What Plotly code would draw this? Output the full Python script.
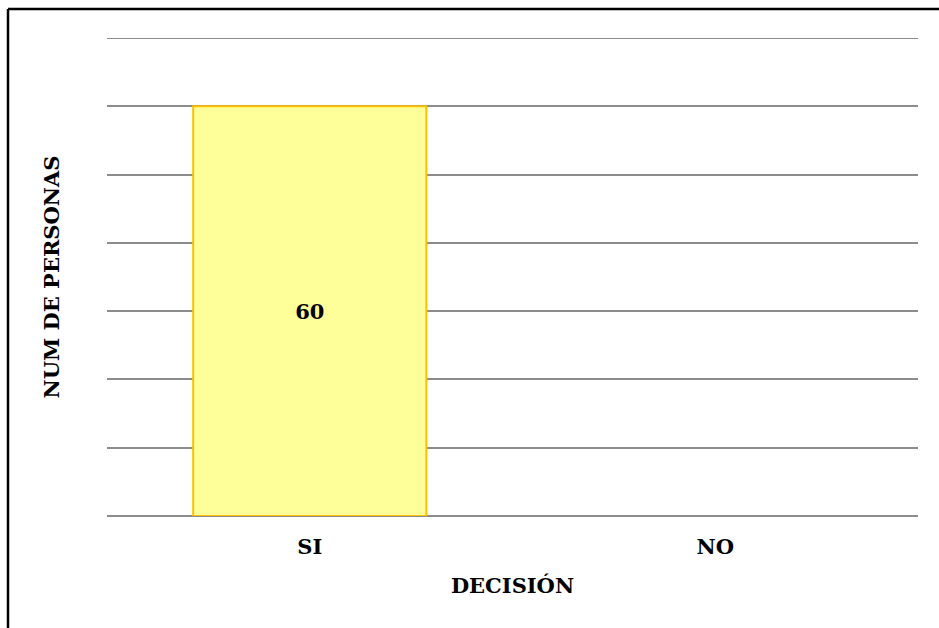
import plotly.graph_objects as go

# Survey result: number of people per decision
categories = ["SI", "NO"]
counts = [60, 0]
value_labels = ["<b>60</b>", ""]
y_max = 70

W, H = 939, 628
ML, MR, MT, MB = 107, 21, 38, 112
plot_w = W - ML - MR
plot_h = H - MT - MB

serif = "DejaVu Serif"

fig = go.Figure()
fig.add_trace(go.Bar(
    x=categories,
    y=counts,
    text=value_labels,
    textposition="inside",
    insidetextanchor="middle",
    textangle=0,
    textfont=dict(family=serif, size=21, color="black"),
    marker=dict(color="#FFFF99", line=dict(color="#FFC000", width=[2, 0])),
    width=0.575,
    hoverinfo="skip",
))

# Top gridline sits on the upper edge of the plot area
fig.add_shape(type="line", xref="paper", yref="y",
              x0=0, x1=1, y0=y_max, y1=y_max,
              line=dict(color="#8c8c8c", width=2), layer="below")

# Outer frame: left and top edges of the chart area
fx = (8 - ML) / plot_w
fy_top = 1 + (MT - 9) / plot_h
fy_bot = -(MB + 10) / plot_h
fig.add_shape(type="line", xref="paper", yref="paper",
              x0=fx, x1=fx, y0=fy_bot, y1=fy_top,
              line=dict(color="black", width=2.5))
fig.add_shape(type="line", xref="paper", yref="paper",
              x0=fx, x1=1 + (MR + 5) / plot_w, y0=fy_top, y1=fy_top,
              line=dict(color="black", width=2.5))

fig.update_layout(
    width=W, height=H,
    margin=dict(l=ML, r=MR, t=MT, b=MB),
    paper_bgcolor="white",
    plot_bgcolor="white",
    showlegend=False,
    font=dict(family=serif, color="black"),
    xaxis=dict(
        title=dict(text="<b>DECISIÓN</b>", font=dict(family=serif, size=21), standoff=20),
        tickfont=dict(family=serif, size=21),
        tickvals=categories,
        ticktext=["<b>SI</b>", "<b>NO</b>"],
        ticklabelstandoff=16,
        showline=False,
        showgrid=False,
        ticks="",
    ),
    yaxis=dict(
        title=dict(text="<b>NUM DE PERSONAS</b>", font=dict(family=serif, size=21), standoff=40),
        range=[0, y_max],
        tickvals=[0, 10, 20, 30, 40, 50, 60, 70],
        showticklabels=False,
        showgrid=True,
        gridcolor="#8c8c8c",
        gridwidth=2,
        zeroline=True,
        zerolinecolor="#8c8c8c",
        zerolinewidth=2,
        ticks="",
    ),
    uniformtext=dict(minsize=8, mode="show"),
)

fig.write_html("out.html")
